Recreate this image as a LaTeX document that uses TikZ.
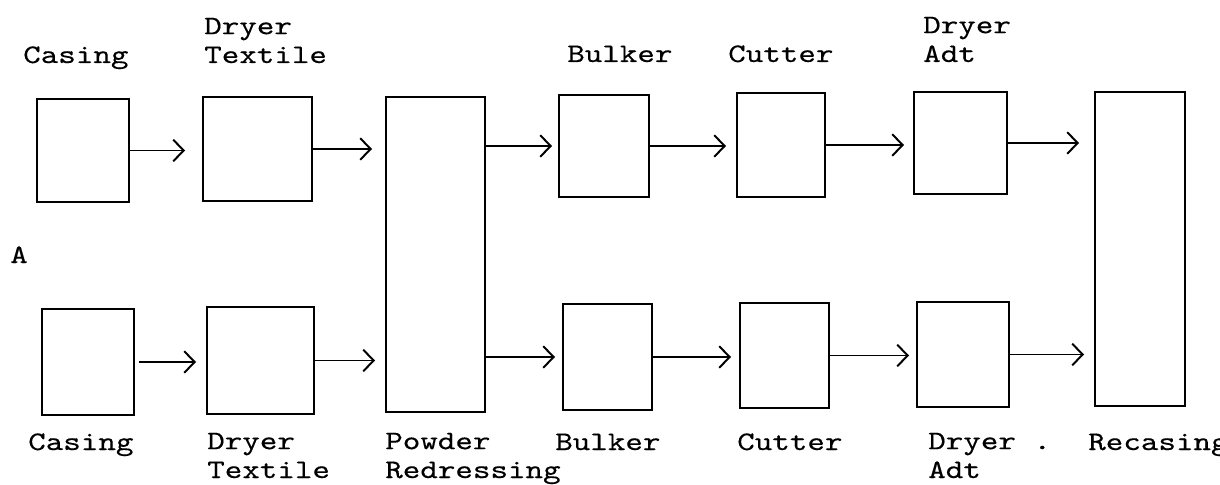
\documentclass[tikz,border=0pt]{standalone}
\usepackage{fontspec}
\newfontfamily\typew{lmmono10-regular.otf}[FakeStretch=1.25,FakeBold=0.3]
\usetikzlibrary{arrows.meta}
\begin{document}
\begin{tikzpicture}[x=0.025cm,y=-0.025cm,
  box/.style={draw=black, line width=1.4pt, inner sep=0pt},
  arr/.style={draw=black, line width=1.4pt, -{Straight Barb[length=2.6mm,width=5.4mm,line width=1.4pt]}},
  lbl/.style={anchor=base west, inner sep=0pt, align=left, font=\typew\fontsize{19}{20.5}\selectfont}]
\useasboundingbox[fill=white] (0,0) rectangle (1220,485);

% top row
\node[box, minimum width=2.3cm,   minimum height=2.575cm] (cT) at (83,150.5) {};
\node[box, minimum width=2.725cm, minimum height=2.6cm]   (dT) at (257.5,149) {};
\node[box, minimum width=2.475cm, minimum height=7.875cm] (P)  at (435.5,254.5) {};
\node[box, minimum width=2.25cm,  minimum height=2.55cm]  (bT) at (604,146) {};
\node[box, minimum width=2.2cm,   minimum height=2.6cm]   (uT) at (781,145) {};
\node[box, minimum width=2.325cm, minimum height=2.55cm]  (aT) at (960.5,143) {};
\node[box, minimum width=2.25cm,  minimum height=7.85cm]  (R)  at (1140,249) {};

% bottom row
\node[box, minimum width=2.3cm,   minimum height=2.65cm]  (cB) at (88,362) {};
\node[box, minimum width=2.675cm, minimum height=2.675cm] (dB) at (260.5,360.5) {};
\node[box, minimum width=2.225cm, minimum height=2.65cm]  (bB) at (607.5,357) {};
\node[box, minimum width=2.225cm, minimum height=2.625cm] (uB) at (784.5,355.5) {};
\node[box, minimum width=2.3cm,   minimum height=2.625cm] (aB) at (963,354.5) {};

% top arrows
\draw[arr, shorten >=0.425cm] (cT.east) -- (cT.east -| dT.west);
\draw[arr, shorten >=0.325cm] (dT.east) -- (dT.east -| P.west);
\draw[arr, shorten >=0.15cm]  (P.east |- bT.west) -- (bT.west);
\draw[arr, shorten >=0.25cm]  (bT.east) -- (bT.east -| uT.west);
\draw[arr, shorten >=0.225cm] (uT.east) -- (uT.east -| aT.west);
\draw[arr, shorten >=0.375cm] (aT.east) -- (aT.east -| R.west);

% bottom arrows
\draw[arr, shorten <=0.1cm, shorten >=0.25cm] (cB.east) -- (cB.east -| dB.west);
\draw[arr, shorten >=0.25cm]  (dB.east) -- (dB.east -| P.west);
\draw[arr, shorten >=0.175cm] (P.east |- bB.west) -- (bB.west);
\draw[arr, shorten >=0.2cm]   (bB.east) -- (bB.east -| uB.west);
\draw[arr, shorten >=0.175cm] (uB.east) -- (uB.east -| aB.west);
\draw[arr, shorten >=0.25cm]  (aB.east) -- (aB.east -| R.west);

% top labels (anchor = baseline of last line)
\node[lbl] (lcT) at (23,63) {Casing};
\node[lbl] (ldT) at (204,63) {Dryer\\Textile};
\node[lbl] (lbT) at (567,62) {Bulker};
\node[lbl] (luT) at (728,62) {Cutter};
\node[lbl] (laT) at (923,62) {Dryer\\Adt};

% side label
\node[lbl] (lA) at (10,263) {A};

% bottom labels
\node[lbl] (lcB) at (28,450) {Casing};
\node[lbl] (ldB) at (207,478) {Dryer\\Textile};
\node[lbl] (lP)  at (385,478) {Powder\\Redressing};
\node[lbl] (lbB) at (555,450) {Bulker};
\node[lbl] (luB) at (737,450) {Cutter};
\node[lbl] (laB) at (928,478) {Dryer .\\Adt};
\node[lbl] (lR)  at (1088,450) {Recasing};
\end{tikzpicture}
\end{document}
